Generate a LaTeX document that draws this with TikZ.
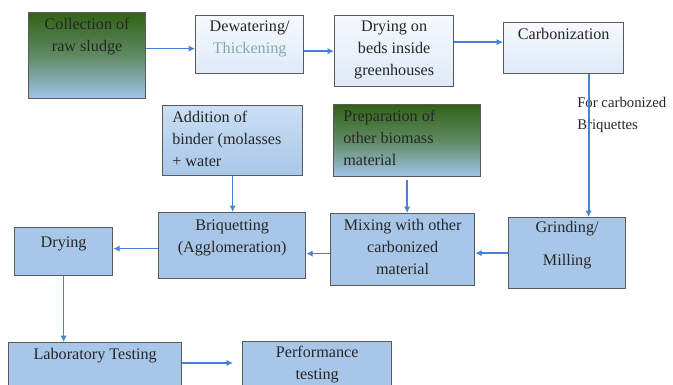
\documentclass[tikz,border=0pt]{standalone}
\usepackage{fontspec}
\setmainfont{Liberation Serif}
\usetikzlibrary{arrows.meta}
\definecolor{flowblue}{RGB}{70,130,215}
\definecolor{boxline}{RGB}{90,90,90}
\definecolor{skyfill}{RGB}{168,199,232}
\definecolor{skylite}{RGB}{203,223,244}
\definecolor{palefill}{RGB}{246,249,253}
\definecolor{palelow}{RGB}{222,234,247}
\definecolor{mossgreen}{RGB}{50,98,22}
\definecolor{mossmid}{RGB}{96,138,100}
\definecolor{mosslow}{RGB}{160,196,234}
\definecolor{fadetext}{RGB}{135,168,165}

\begin{document}
\begin{tikzpicture}[x=0.025cm,y=-0.025cm,
    box/.style={draw=boxline,line width=0.9pt,anchor=north west,inner sep=0pt},
    pale/.style={box,top color=palefill,bottom color=palelow},
    sky/.style={box,fill=skyfill},
    skygrad/.style={box,top color=skylite,bottom color=skyfill},
    moss/.style={box,top color=mossgreen,bottom color=mosslow,middle color=mossmid},
    txt/.style={anchor=north,align=center,inner sep=0.15cm,text=black!85,
      font=\fontsize{11.5}{15.5}\selectfont},
    arr/.style={-{Latex[length=1.6mm,width=1.6mm]},line width=1.2pt,flowblue}]
    \useasboundingbox (0,0) rectangle (673,385);
    % top row
    \node[moss,minimum width=2.925cm,minimum height=2.15cm,
      label={[txt]north:{Collection of\\raw sludge}}] (coll) at (28,12) {};
    \node[pale,minimum width=2.7cm,minimum height=1.45cm,
      label={[txt]north:{Dewatering/\\\textcolor{fadetext}{Thickening}}}] (dew) at (195,15) {};
    \node[pale,minimum width=2.975cm,minimum height=1.775cm,
      label={[txt]north:{Drying on\\beds inside\\greenhouses}}] (beds) at (334,15) {};
    \node[pale,minimum width=3cm,minimum height=1.275cm,
      label={[txt]north:Carbonization}] (carb) at (503,22) {};
    % inputs
    \node[skygrad,minimum width=3.5cm,minimum height=1.75cm,
      label={[txt,anchor=north west,align=left,xshift=0.1cm]north west:{Addition of\\binder (molasses\\+ water}}] (binder) at (162,105) {};
    \node[moss,minimum width=3.675cm,minimum height=1.8cm,
      label={[txt,anchor=north west,align=left,xshift=0.1cm]north west:{Preparation of\\other biomass\\material}}] (prep) at (333,104) {};
    % middle row
    \node[sky,minimum width=3.675cm,minimum height=1.65cm,
      label={[txt,yshift=-0.05cm]north:{Briquetting\\(Agglomeration)}}] (briq) at (158,212) {};
    \node[sky,minimum width=3.6cm,minimum height=1.8cm,
      label={[txt]north:{Mixing with other\\carbonized\\material}}] (mix) at (330,213) {};
    \node[sky,minimum width=2.925cm,minimum height=1.775cm,
      label={[txt,yshift=0.05cm]north:{Grinding/\\[8pt]Milling}}] (grind) at (508,217) {};
    \node[sky,minimum width=2.45cm,minimum height=1.2cm,
      label={[txt,yshift=-0.1cm]north:Drying}] (dry) at (14,227) {};
    % bottom row
    \node[sky,minimum width=4.325cm,minimum height=1.5cm,
      label={[txt]north:Laboratory Testing}] (lab) at (8,342) {};
    \node[sky,minimum width=3.725cm,minimum height=1.5cm,
      label={[txt,yshift=0.03cm]north:{Performance\\testing}}] (perf) at (242,341) {};
    \node[txt,anchor=north west,align=left,inner sep=0pt,
      font=\fontsize{10.5}{15.5}\selectfont] (note) at (577,97) {For carbonized\\Briquettes};
    % connectors
    \draw[arr] ([yshift=-0.1cm]dew.west -| coll.east) -- ([yshift=-0.1cm]dew.west);
    \draw[arr] (dew.east |- beds.west) -- (beds.west);
    \draw[arr] ([yshift=0.15cm]carb.west -| beds.east) -- ([yshift=0.15cm]carb.west);
    \draw[arr] ([xshift=0.625cm]carb.south) -- ([xshift=0.625cm]carb.south |- grind.north);
    \draw[arr] (grind.west) -- (grind.west -| mix.east);
    \draw[arr] ([yshift=-0.1cm]mix.west) -- ([yshift=-0.1cm]mix.west -| briq.east);
    \draw[arr] ([yshift=-0.075cm]briq.west) -- ([yshift=-0.075cm]briq.west -| dry.east);
    \draw[arr] (binder.south) -- (binder.south |- briq.north);
    \draw[arr] ([yshift=-0.08cm]prep.south) -- (prep.south |- mix.north);
    \draw[arr] (dry.south) -- (dry.south |- lab.north);
    \draw[arr,shorten >=0.225cm] ([yshift=-0.525cm]lab.north east) -- ([yshift=-0.525cm]lab.north east -| perf.west);
  \end{tikzpicture}
\end{document}
